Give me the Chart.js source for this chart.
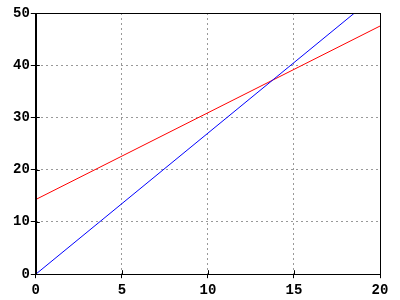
<!DOCTYPE html>
<html>
<head>
<meta charset="utf-8">
<script src="https://cdn.jsdelivr.net/npm/chart.js@4/dist/chart.umd.min.js"></script>
<style>
    html, body { margin: 0; padding: 0; background: #fff; }
    #wrap { width: 400px; height: 300px; }
</style>
</head>
<body>
<div id="wrap"><canvas id="lineChart"></canvas></div>
<script>
// end points
const blueX = [0, 20];
const blueY = [0, 54];
const redX = [0, 20];
const redY = [14.3, 47.5];
const xTicks = [0, 5, 10, 15, 20];
const yTicks = [0, 10, 20, 30, 40, 50];

function toPoints(xs, ys) {
    return xs.map((x, i) => ({ x: x, y: ys[i] }));
}

// black frame round the plot area plus the inner half of each tick
const framePlugin = {
    id: 'frame',
    afterDraw(chart) {
        const { ctx, chartArea: a, scales } = chart;
        ctx.save();
        ctx.strokeStyle = '#000';
        ctx.lineWidth = 1;
        ctx.setLineDash([]);
        ctx.beginPath();
        xTicks.forEach(v => {
            const px = Math.round(scales.x.getPixelForValue(v)) + 0.5;
            ctx.moveTo(px, a.bottom);
            ctx.lineTo(px, a.bottom - 4);
        });
        yTicks.forEach(v => {
            const py = Math.round(scales.y.getPixelForValue(v)) + 0.5;
            ctx.moveTo(a.left, py);
            ctx.lineTo(a.left + 4, py);
        });
        ctx.stroke();
        ctx.fillStyle = '#000';
        const l = Math.round(a.left), t = Math.round(a.top);
        const r = Math.round(a.right), b = Math.round(a.bottom);
        ctx.fillRect(l, t, r - l + 1, 1);
        ctx.fillRect(l, b, r - l + 1, 1);
        ctx.fillRect(l, t, 1, b - t + 1);
        ctx.fillRect(r, t, 1, b - t + 1);
        ctx.restore();
    }
};

const tickFont = { family: '"Liberation Mono", "Courier New", monospace', size: 14, weight: 'bold' };

new Chart(document.getElementById('lineChart'), {
    type: 'line',
    data: {
        datasets: [
            {
                data: toPoints(blueX, blueY),
                borderColor: '#0000ff',
                borderWidth: 1,
                pointRadius: 0,
                fill: false
            },
            {
                data: toPoints(redX, redY),
                borderColor: '#ff0000',
                borderWidth: 1,
                pointRadius: 0,
                fill: false
            }
        ]
    },
    options: {
        responsive: true,
        maintainAspectRatio: false,
        animation: false,
        layout: { padding: { left: 12, right: 20, top: 13, bottom: -3 } },
        plugins: {
            legend: { display: false },
            tooltip: { enabled: false }
        },
        scales: {
            x: {
                type: 'linear',
                min: 0,
                max: 20,
                afterBuildTicks: axis => { axis.ticks = xTicks.map(v => ({ value: v })); },
                grid: {
                    color: '#999999',
                    tickColor: '#000',
                    tickLength: 4
                },
                border: { color: '#000', dash: [2, 3] },
                ticks: { color: '#000', font: tickFont, padding: 4, maxRotation: 0 }
            },
            y: {
                type: 'linear',
                min: 0,
                max: 50,
                afterBuildTicks: axis => { axis.ticks = yTicks.map(v => ({ value: v })); },
                grid: {
                    color: '#999999',
                    tickColor: '#000',
                    tickLength: 5
                },
                border: { color: '#000', dash: [2, 3] },
                ticks: { color: '#000', font: tickFont, padding: 1 }
            }
        }
    },
    plugins: [framePlugin]
});
</script>
</body>
</html>
